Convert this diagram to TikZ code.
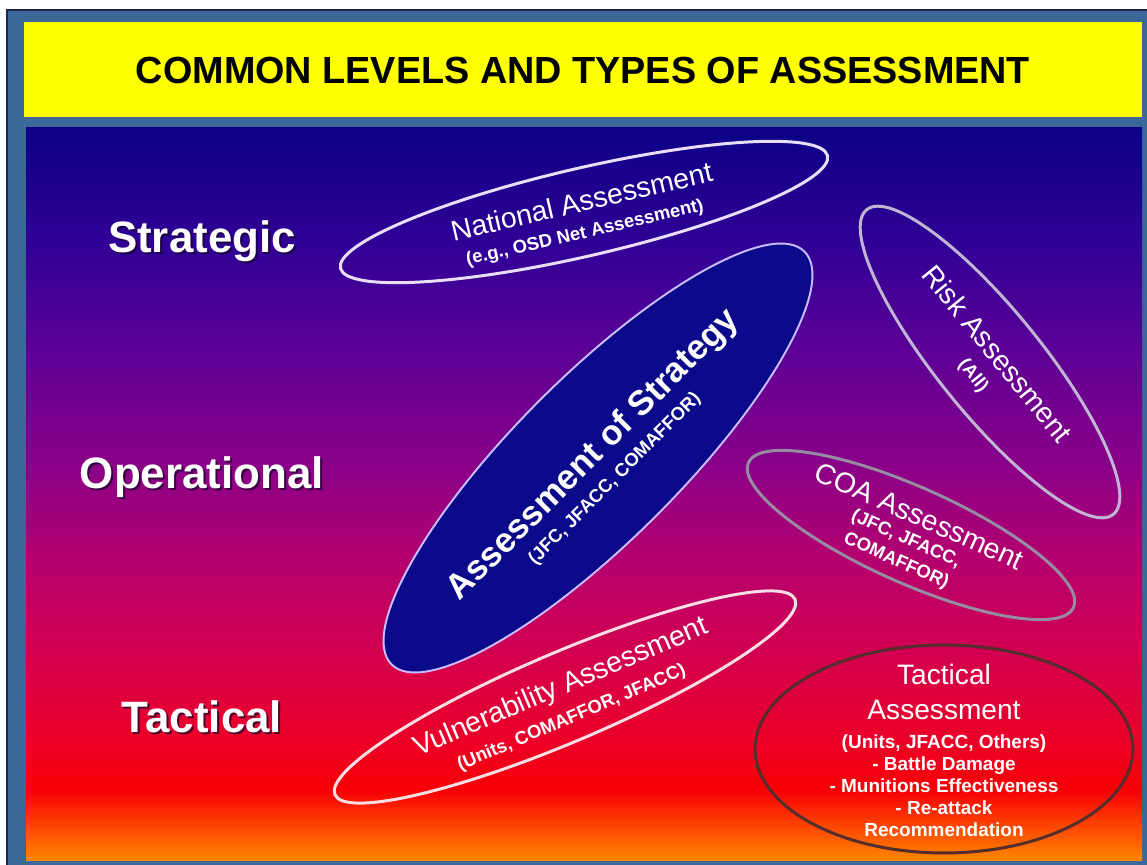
\documentclass[tikz,border=0pt]{standalone}
\usepackage{fontspec}
\setmainfont{Liberation Sans}
\usetikzlibrary{shapes.geometric}

% palette
\definecolor{frameblue}{RGB}{59,104,150}
\definecolor{frameedge}{RGB}{25,40,70}
\definecolor{titleyellow}{RGB}{255,255,0}
\definecolor{gA}{RGB}{12,0,135}
\definecolor{gB}{RGB}{50,0,150}
\definecolor{gC}{RGB}{92,0,150}
\definecolor{gD}{RGB}{140,0,135}
\definecolor{gE}{RGB}{180,0,110}
\definecolor{gF}{RGB}{210,0,80}
\definecolor{gG}{RGB}{235,0,40}
\definecolor{gH}{RGB}{248,0,5}
\definecolor{gI}{RGB}{255,135,0}
\definecolor{natline}{RGB}{232,222,246}
\definecolor{riskline}{RGB}{192,182,212}
\definecolor{stratfill}{RGB}{10,10,138}
\definecolor{stratline}{RGB}{200,190,255}
\definecolor{coaline}{RGB}{150,140,162}
\definecolor{vulnline}{RGB}{250,222,228}
\definecolor{tacline}{RGB}{85,45,45}
\definecolor{glow}{RGB}{20,0,40}

% background ramp: dark blue at the top, orange at the bottom
\pgfdeclareverticalshading{panelramp}{100bp}{%
  color(0bp)=(gI); color(25bp)=(gI); color(29.78bp)=(gH); color(33.2bp)=(gG);
  color(39.34bp)=(gF); color(45.49bp)=(gE); color(51.64bp)=(gD);
  color(59.84bp)=(gC); color(66.67bp)=(gB); color(75bp)=(gA); color(100bp)=(gA)}

\begin{document}
\begin{tikzpicture}[x=0.02cm, y=-0.02cm,
  ring/.style={ellipse, inner sep=0pt, outer sep=0pt},
  maintxt/.style={text=white, inner sep=0pt, font=\fontsize{16.2}{19}\selectfont},
  subtxt/.style={text=white, inner sep=0pt, align=center,
                 font=\bfseries\fontsize{10.5}{13.6}\selectfont},
  lvl/.style={text=white, inner sep=0pt, anchor=base,
              font=\bfseries\fontsize{25}{30}\selectfont},
  lvlshade/.style={lvl, text=glow, opacity=0.7}]

\useasboundingbox (0,0) rectangle (1147,865);

% frame, title bar and background panel
\fill[white] (0,0) rectangle (1147,865);
\draw[fill=frameblue, draw=frameedge, line width=0.6pt] (7,10) rectangle (1150,868);
\fill[titleyellow] (24,22) rectangle (1142,117);
\shade[shading=panelramp] (26,128) rectangle (1142,860);

\node[text=black, inner sep=0pt, font=\bfseries\fontsize{21.5}{26}\selectfont]
  (title) at (583,70) {COMMON LEVELS AND TYPES OF ASSESSMENT};

% level labels
\node[lvlshade] (strat-sh) at (204,255) {Strategic};
\node[lvl] (strat) at (202,253) {Strategic};
\node[lvlshade] (oper-sh) at (204,490) {Operational};
\node[lvl] (oper) at (202,488) {Operational};
\node[lvlshade] (tact-sh) at (204,734) {Tactical};
\node[lvl] (tact) at (202,732) {Tactical};

% national assessment
\begin{scope}[shift={(584,212)}, rotate=13]
  \node[ring, draw=natline, line width=1.7pt, minimum width=10cm, minimum height=1.76cm, rotate=13] (nat) at (0,0) {};
  \node[maintxt, rotate=13] (nat-t) at (0,-11) {National Assessment};
  \node[subtxt, rotate=13] (nat-s) at (-4,21) {(e.g., OSD Net Assessment)};
\end{scope}

% risk assessment
\begin{scope}[shift={(990,362)}, rotate=-51]
  \node[ring, draw=riskline, line width=1.7pt, minimum width=7.84cm, minimum height=2.08cm, rotate=-51] (risk) at (0,0) {};
  \node[maintxt, rotate=-51] (risk-t) at (-2,-11) {Risk Assessment};
  \node[subtxt, rotate=-51] (risk-s) at (0,22) {(All)};
\end{scope}

% assessment of strategy
\begin{scope}[shift={(598,458)}, rotate=45]
  \node[ring, fill=stratfill, draw=stratline, line width=1.1pt, minimum width=11.68cm, minimum height=3.28cm, rotate=45] (strategy) at (0,0) {};
  \node[text=white, inner sep=0pt, font=\bfseries\fontsize{19.8}{24}\selectfont, rotate=45] (strategy-t) at (-1,-5) {Assessment of Strategy};
  \node[subtxt, rotate=45] (strategy-s) at (-3,27) {(JFC, JFACC, COMAFFOR)};
\end{scope}

% course of action assessment
\begin{scope}[shift={(911,535)}, rotate=-24]
  \node[ring, draw=coaline, line width=1.7pt, minimum width=7.12cm, minimum height=1.92cm, rotate=-24] (coa) at (0,0) {};
  \node[maintxt, rotate=-24] (coa-t) at (0,-21) {COA Assessment};
  \node[subtxt, rotate=-24] (coa-s) at (-3,18) {(JFC, JFACC,\\COMAFFOR)};
\end{scope}

% vulnerability assessment
\begin{scope}[shift={(565,697)}, rotate=23]
  \node[ring, draw=vulnline, line width=1.7pt, minimum width=10cm, minimum height=1.8cm, rotate=23] (vuln) at (0,0) {};
  \node[maintxt, rotate=23] (vuln-t) at (0,-10) {Vulnerability Assessment};
  \node[subtxt, rotate=23] (vuln-s) at (-2,22) {(Units, COMAFFOR, JFACC)};
\end{scope}

% tactical assessment
\node[ring, draw=tacline, line width=1.7pt, minimum width=7.56cm, minimum height=4.16cm] (tactical) at (944,749) {};
\node[maintxt, align=center, font=\fontsize{16}{19.8}\selectfont] (tactical-t) at (944,692) {Tactical\\Assessment};
\node[subtxt, font=\bfseries\fontsize{10.8}{12.5}\selectfont] (tactical-s) at (944,786)
  {(Units, JFACC, Others)\\- Battle Damage\\- Munitions Effectiveness\\- Re-attack\\Recommendation};

\end{tikzpicture}
\end{document}
